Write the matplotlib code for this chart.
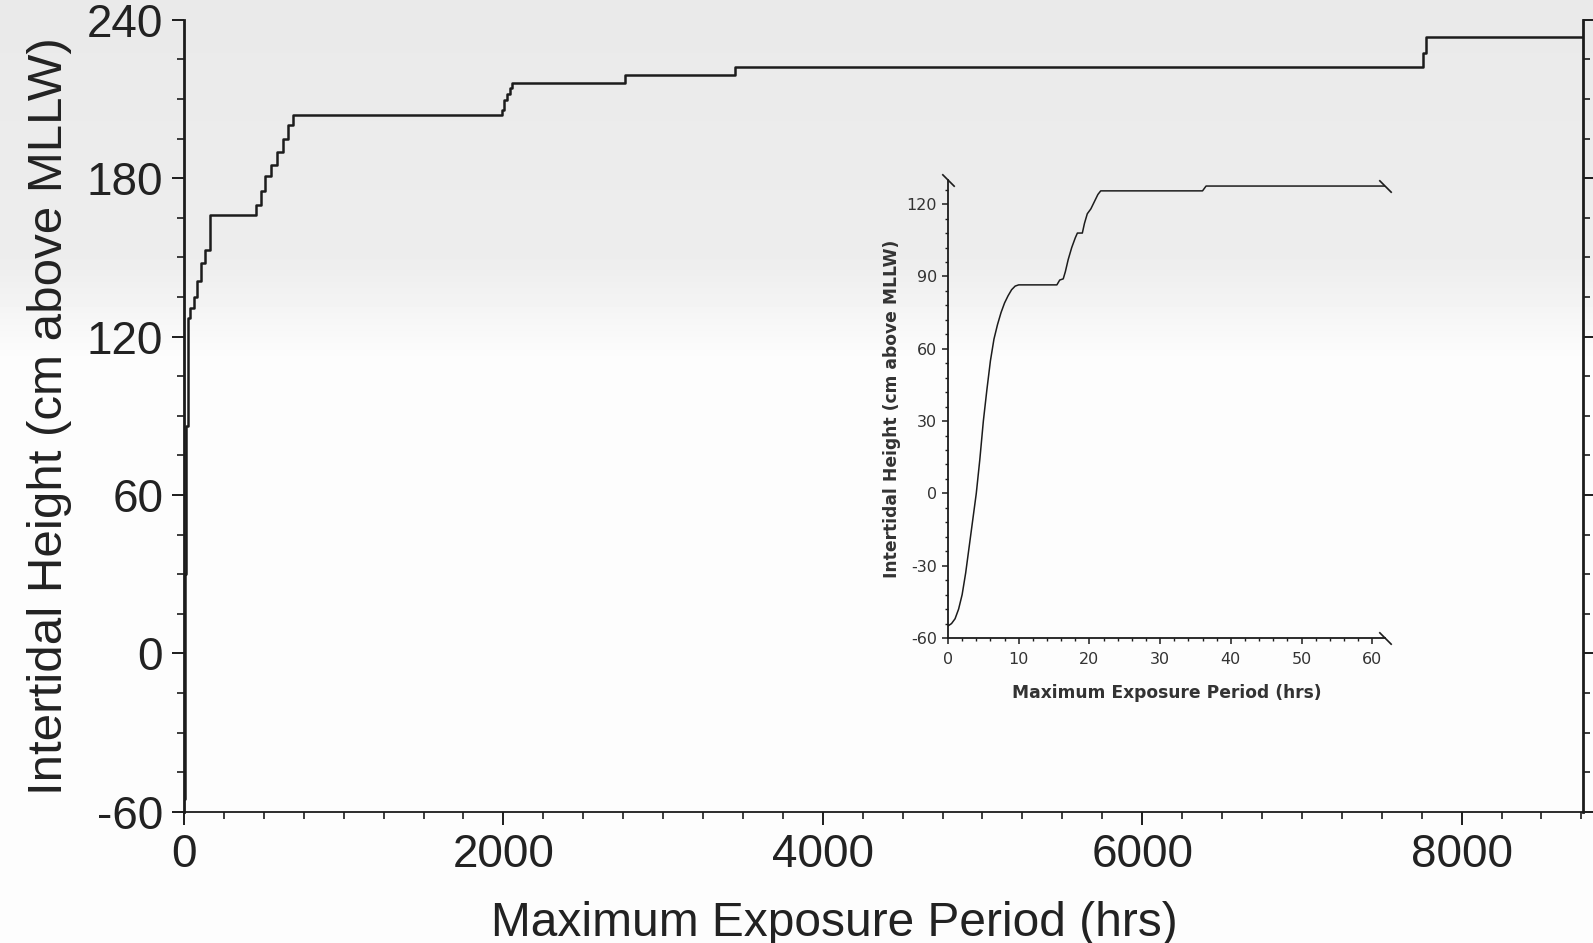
import numpy as np
import matplotlib.pyplot as plt
from matplotlib.path import Path
from matplotlib.ticker import MultipleLocator

plt.rcParams['font.family'] = ['Liberation Sans', 'DejaVu Sans']
plt.rcParams['axes.unicode_minus'] = False

# maximum continuous exposure over the year vs. intertidal height
year_hours = [0, 5, 10, 22, 40, 60, 80, 105, 130, 160, 450, 480, 510, 545, 580, 620,
              650, 680, 1990, 2005, 2025, 2040, 2055, 2760, 3450, 7760, 7780, 8760]
year_height = [-55, 30, 86, 127, 131, 135, 141, 148, 153, 166, 170, 175, 181, 185, 190,
               195, 200, 204, 206, 209.5, 212, 214, 216, 219, 222, 227.5, 233.5, 233.5]

# close-up of the first 60 hours
short_hours = [0, 0.5, 1, 1.5, 2, 2.5, 3, 3.5, 4, 4.5, 5, 5.5, 6, 6.5, 7, 7.5, 8, 8.5,
               9, 9.5, 10, 15.4, 15.8, 16.3, 16.6, 17.0, 17.5, 18.0, 18.3, 19.0, 19.3,
               19.7, 20.2, 20.7, 21.2, 21.6, 36.0, 36.5, 61.8]
short_height = [-55, -54, -52, -48, -42, -33, -22, -11, 0, 14, 30, 43, 55, 64, 70, 75,
                79, 82, 84.5, 86, 86.5, 86.5, 88.5, 89, 92, 97, 102, 106, 108, 108, 112,
                116, 118, 121, 124, 125.5, 125.5, 127.5, 127.5]

main_xticks = [0, 2000, 4000, 6000, 8000]
main_yticks = [-60, 0, 60, 120, 180, 240]
inset_xticks = [0, 10, 20, 30, 40, 50, 60]
inset_yticks = [-60, -30, 0, 30, 60, 90, 120]

ink = '#1c1c1c'

fig = plt.figure(figsize=(15.93, 9.43), dpi=100)

# paper tone: greyish at the top, white lower down
bg = fig.add_axes([0, 0, 1, 1], zorder=-10)
rows = np.linspace(0, 1, 943)
shade = np.interp(rows, [0, 0.28, 0.38, 1], [0.915, 0.93, 0.99, 0.99])
bg.imshow(np.tile(shade[:, None], (1, 4)), cmap='gray', vmin=0, vmax=1, aspect='auto',
          extent=[0, 1, 0, 1], interpolation='nearest')
bg.axis('off')

# main panel
ax = fig.add_axes([0.1155, 0.139, 0.8782, 0.840])
ax.patch.set_alpha(0)
ax.plot(year_hours, year_height, drawstyle='steps-post', color=ink, lw=1.8)
ax.set_xlim(0, 8760)
ax.set_ylim(-60, 240)
ax.spines['top'].set_visible(False)
ax.spines['left'].set_linewidth(2.0)
ax.spines['right'].set_linewidth(2.0)
ax.spines['bottom'].set_linewidth(1.3)
for s in ax.spines.values():
    s.set_color(ink)
ax.set_xticks(main_xticks)
ax.set_yticks(main_yticks)
ax.xaxis.set_minor_locator(MultipleLocator(250))
ax.yaxis.set_minor_locator(MultipleLocator(15))
ax.tick_params(axis='both', which='major', direction='out', length=9, width=1.4,
               color=ink, labelsize=33, labelcolor='#222222', pad=6)
ax.tick_params(axis='both', which='minor', direction='out', length=5, width=1.2, color=ink)
ax.tick_params(axis='y', which='both', right=True)
ax.set_xlabel('Maximum Exposure Period (hrs)', fontsize=34.5, color='#222222')
ax.set_ylabel('Intertidal Height (cm above MLLW)', fontsize=35.5, color='#222222')
ax.xaxis.set_label_coords(0.4646, -0.112)
ax.yaxis.set_label_coords(-0.080, 0.5)

# inset panel
ins = fig.add_axes([0.5951, 0.3234, 0.2743, 0.4857])
ins.patch.set_alpha(0)
ins.plot(short_hours, short_height, color=ink, lw=1.1)
ins.set_xlim(0, 61.8)
ins.set_ylim(-60, 130)
ins.spines['top'].set_visible(False)
ins.spines['right'].set_visible(False)
for s in ['left', 'bottom']:
    ins.spines[s].set_linewidth(1.3)
    ins.spines[s].set_color(ink)
ins.set_xticks(inset_xticks)
ins.set_yticks(inset_yticks)
ins.xaxis.set_minor_locator(MultipleLocator(2))
ins.yaxis.set_minor_locator(MultipleLocator(6))
ins.tick_params(axis='both', which='major', direction='out', length=4, width=1.1,
                color=ink, labelsize=11.5, labelcolor='#333333', pad=4,
                labelfontfamily='DejaVu Sans')
ins.tick_params(axis='x', which='major', pad=6)
ins.tick_params(axis='both', which='minor', direction='out', length=2.5, width=1.0, color=ink)
ins.set_xlabel('Maximum Exposure Period (hrs)', fontsize=12.3, fontweight='bold',
               family='DejaVu Sans', color='#333333', labelpad=12)
ins.set_ylabel('Intertidal Height (cm above MLLW)', fontsize=12.3, fontweight='bold',
               family='DejaVu Sans', color='#333333', labelpad=4)

# slash marks where the inset axes and curve are cut off
slash = Path([(-1, 1), (1, -1)], [Path.MOVETO, Path.LINETO])
for xb, yb in [(0, 130), (61.8, -60), (61.8, 127.5)]:
    ins.plot([xb], [yb], marker=slash, ms=9, mew=1.2, color=ink, clip_on=False)

fig.savefig('out.png', dpi=100)
